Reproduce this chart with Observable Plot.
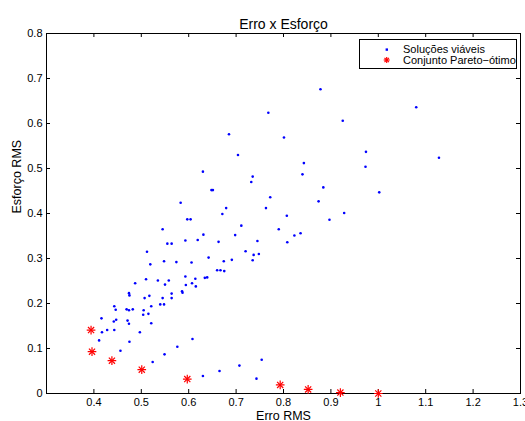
<!DOCTYPE html>
<html><head><meta charset="utf-8">
<script src="https://cdn.jsdelivr.net/npm/d3@7"></script>
<script src="https://cdn.jsdelivr.net/npm/@observablehq/plot@0.6"></script>
<style>
body{margin:0;background:#fff;font-family:"Liberation Sans",Arial,Helvetica,sans-serif;}
#wrap{position:relative;width:525px;height:421px;overflow:hidden;background:#fff;}
#legend{position:absolute;left:359px;top:39px;width:158px;height:30px;box-sizing:border-box;border:1px solid #000;background:#fff;font-size:11px;color:#000;}
#legend span{position:absolute;left:43px;white-space:nowrap;line-height:12px;}
#legend svg{position:absolute;left:0;top:0;}
</style></head><body>
<div id="wrap"></div>
<script>
const titleText = "Erro x Esforço";
const xLabel = "Erro RMS";
const yLabel = "Esforço RMS";
const seriesNames = ["Soluções viáveis", "Conjunto Pareto−ótimo"];
const xTicks = [0.4, 0.5, 0.6, 0.7, 0.8, 0.9, 1.0, 1.1, 1.2, 1.3];
const yTicks = [0, 0.1, 0.2, 0.3, 0.4, 0.5, 0.6, 0.7, 0.8];

const blueX = [0.583,0.597,0.604,0.545,0.631,0.555,0.564,0.593,0.619,0.663,
0.512,0.642,0.519,0.548,0.574,0.606,0.660,0.667,0.487,0.510,
0.535,0.558,0.550,0.593,0.614,0.634,0.639,0.607,0.615,0.594,
0.474,0.475,0.517,0.507,0.545,0.564,0.564,0.586,0.587,0.443,
0.446,0.469,0.474,0.482,0.505,0.521,0.540,0.548,0.504,0.515,
0.416,0.442,0.447,0.471,0.474,0.521,0.417,0.428,0.443,0.497,
0.411,0.475,0.608,0.456,0.576,0.549,0.524,0.630,0.665,0.720,
0.737,0.748,0.674,0.691,0.735,0.675,0.707,0.754,0.743,0.878,
1.080,0.768,0.925,0.685,0.801,0.974,1.128,0.704,0.973,0.843,
0.840,0.630,0.735,0.732,0.648,0.651,0.884,1.002,0.874,0.772,
0.679,0.671,0.763,0.928,0.807,0.897,0.711,0.790,0.698,0.745,
0.808,0.823,0.836];
const blueY = [0.424,0.387,0.387,0.365,0.353,0.333,0.333,0.340,0.341,0.337,
0.315,0.302,0.287,0.294,0.292,0.291,0.274,0.274,0.245,0.254,
0.251,0.251,0.242,0.260,0.255,0.257,0.258,0.245,0.238,0.241,
0.223,0.218,0.217,0.212,0.212,0.222,0.212,0.227,0.224,0.194,
0.186,0.187,0.185,0.187,0.185,0.194,0.198,0.198,0.175,0.177,
0.167,0.160,0.164,0.162,0.155,0.156,0.136,0.141,0.141,0.136,
0.118,0.115,0.121,0.095,0.104,0.087,0.070,0.039,0.050,0.316,
0.308,0.310,0.294,0.297,0.296,0.272,0.062,0.075,0.033,0.676,
0.636,0.624,0.606,0.576,0.569,0.537,0.524,0.530,0.504,0.512,
0.487,0.493,0.482,0.470,0.452,0.452,0.458,0.447,0.427,0.436,
0.412,0.399,0.412,0.401,0.395,0.386,0.373,0.365,0.352,0.339,
0.336,0.351,0.356];

const paretoX = [0.394,0.396,0.438,0.501,0.597,0.793,0.852,0.920,1.000];
const paretoY = [0.141,0.093,0.073,0.053,0.032,0.019,0.009,0.002,0.000];

const feasible = blueX.map((x, i) => ({x, y: blueY[i]}));
const pareto = paretoX.map((x, i) => ({x, y: paretoY[i]}));

const W = 525, H = 421, mL = 46, mR = 5, mT = 33, mB = 28;
const fw = W - mL - mR, fh = H - mT - mB;
const fmt = d => String(+d.toFixed(1));

const chart = Plot.plot({
  width: W, height: H,
  marginLeft: mL, marginRight: mR, marginTop: mT, marginBottom: mB,
  style: {fontFamily: '"Liberation Sans", Arial, Helvetica, sans-serif', fontSize: "11px", background: "#fff", color: "#000", overflow: "hidden"},
  x: {domain: [0.3, 1.3]},
  y: {domain: [0, 0.8]},
  marks: [
    Plot.axisX({ticks: xTicks, tickSize: 0, tickPadding: 5, tickFormat: fmt, label: null}),
    Plot.axisY({ticks: yTicks, tickSize: 0, tickPadding: 4, tickFormat: fmt, label: null}),
    Plot.tickX(xTicks, {x: d => d, insetTop: fh - 4, stroke: "#000"}),
    Plot.tickX(xTicks, {x: d => d, insetBottom: fh - 4, stroke: "#000"}),
    Plot.tickY(yTicks, {y: d => d, insetRight: fw - 4, stroke: "#000"}),
    Plot.tickY(yTicks, {y: d => d, insetLeft: fw - 4, stroke: "#000"}),
    Plot.frame({stroke: "#000", strokeWidth: 1}),
    Plot.dot(feasible, {x: "x", y: "y", r: 1.3, fill: "#0000ff", stroke: null}),
    Plot.dot(pareto, {x: "x", y: "y", symbol: "plus", r: 2.9, stroke: "#ff0000", strokeWidth: 1.2}),
    Plot.dot(pareto, {x: "x", y: "y", symbol: "times", r: 2.9, stroke: "#ff0000", strokeWidth: 1.2}),
    Plot.text([titleText], {text: d => d, frameAnchor: "top", dy: -14, fontSize: 14}),
    Plot.text([xLabel], {text: d => d, frameAnchor: "bottom", dy: 26, fontSize: 12.5}),
    Plot.text([yLabel], {text: d => d, frameAnchor: "left", dx: -30, rotate: -90, fontSize: 12.5})
  ]
});
const wrap = document.getElementById("wrap");
wrap.appendChild(chart);

// legend
const leg = document.createElement("div");
leg.id = "legend";
leg.innerHTML = `<svg width="156" height="28">
  <rect x="25.6" y="8.4" width="2.4" height="2.4" fill="#0000ff"></rect>
  <g stroke="#ff0000" stroke-width="1.2" transform="translate(26.7,20)">
    <line x1="-3" y1="0" x2="3" y2="0"></line><line x1="0" y1="-3" x2="0" y2="3"></line>
    <line x1="-2.2" y1="-2.2" x2="2.2" y2="2.2"></line><line x1="-2.2" y1="2.2" x2="2.2" y2="-2.2"></line>
  </g></svg>
  <span style="top:3px">${seriesNames[0]}</span>
  <span style="top:14px">${seriesNames[1]}</span>`;
wrap.appendChild(leg);
</script>
</body></html>
